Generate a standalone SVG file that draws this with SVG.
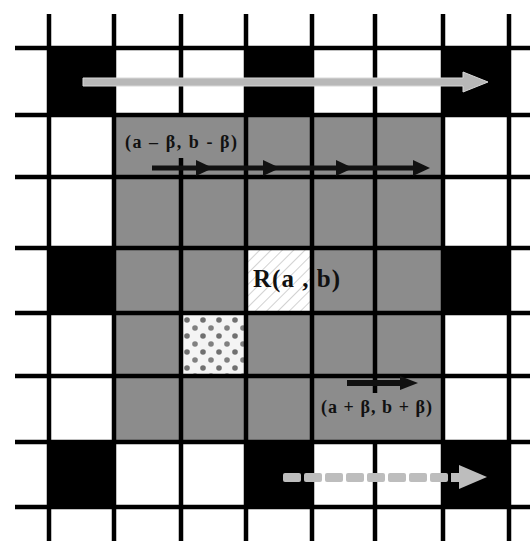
<svg xmlns="http://www.w3.org/2000/svg" width="530" height="541" viewBox="0 0 530 541">
<style>
.grid line{stroke:#000;stroke-width:4.5}
.blk{fill:#000}
.lbl{font-family:"Liberation Serif","Times New Roman",serif;font-weight:bold;fill:#111}
.light{fill:#b8b8b8;stroke:#d8d8d8;stroke-width:1}
</style>
<defs>
<pattern id="hatch" width="8" height="8" patternUnits="userSpaceOnUse" patternTransform="rotate(45)">
<rect width="8" height="8" fill="#fff"/>
<line x1="0" y1="0" x2="0" y2="8" stroke="#c4c4c4" stroke-width="1.5"/>
</pattern>
<pattern id="dots" width="16" height="16" patternUnits="userSpaceOnUse" x="183" y="316">
<rect width="16" height="16" fill="#f4f4f4"/>
<circle cx="4" cy="4" r="2.8" fill="#707070"/>
<circle cx="12" cy="12" r="2.8" fill="#808080"/>
</pattern>
</defs>
<rect width="530" height="541" fill="#fff"/>
<g id="cells">
<rect x="114" y="115" width="329" height="327" fill="#8c8c8c"/>
<rect class="blk" x="49" y="48" width="65" height="67"/>
<rect class="blk" x="246" y="48" width="66" height="67"/>
<rect class="blk" x="443" y="48" width="66" height="67"/>
<rect class="blk" x="49" y="248" width="65" height="65"/>
<rect class="blk" x="443" y="248" width="66" height="65"/>
<rect class="blk" x="49" y="442" width="65" height="65"/>
<rect class="blk" x="246" y="442" width="66" height="65"/>
<rect class="blk" x="443" y="442" width="66" height="65"/>
<rect id="R" x="246" y="248" width="66" height="65" fill="url(#hatch)"/>
<rect id="dotcell" x="181" y="313" width="65" height="63" fill="url(#dots)"/>
</g>
<g class="grid" id="grid">
<line x1="49" y1="14" x2="49" y2="541"/>
<line x1="114" y1="14" x2="114" y2="541"/>
<line x1="181" y1="14" x2="181" y2="115"/>
<line x1="181" y1="158" x2="181" y2="541"/>
<line x1="246" y1="14" x2="246" y2="541"/>
<line x1="312" y1="14" x2="312" y2="541"/>
<line x1="375" y1="14" x2="375" y2="393"/>
<line x1="375" y1="442" x2="375" y2="541"/>
<line x1="443" y1="14" x2="443" y2="541"/>
<line x1="509" y1="14" x2="509" y2="541"/>
<line x1="15" y1="48" x2="530" y2="48"/>
<line x1="15" y1="115" x2="530" y2="115"/>
<line x1="15" y1="177" x2="530" y2="177"/>
<line x1="15" y1="248" x2="530" y2="248"/>
<line x1="15" y1="313" x2="530" y2="313"/>
<line x1="15" y1="376" x2="530" y2="376"/>
<line x1="15" y1="442" x2="530" y2="442"/>
<line x1="15" y1="507" x2="530" y2="507"/>
</g>
<g id="connectors">
<polygon class="light" points="83,78 463,78 463,72 488,82 463,92 463,86 83,86"/>
<g fill="#bdbdbd">
<rect x="283" y="473" width="18" height="9" rx="2"/>
<rect x="304" y="473" width="18" height="9" rx="2"/>
<rect x="325" y="473" width="18" height="9" rx="2"/>
<rect x="346" y="473" width="18" height="9" rx="2"/>
<rect x="367" y="473" width="18" height="9" rx="2"/>
<rect x="388" y="473" width="18" height="9" rx="2"/>
<rect x="409" y="473" width="18" height="9" rx="2"/>
<rect x="430" y="473" width="18" height="9" rx="2"/>
<rect x="451" y="473" width="10" height="9"/>
<polygon points="459,465 487,477 459,489"/>
</g>
<line x1="152" y1="168" x2="424" y2="168" stroke="#111" stroke-width="5"/>
<g fill="#111">
<polygon points="196,160 213,168 196,176"/>
<polygon points="263,160 280,168 263,176"/>
<polygon points="336,160 353,168 336,176"/>
<polygon points="413,160 430,168 413,176"/>
<polygon points="400,376 418,383 400,390"/>
</g>
<line x1="347" y1="383" x2="404" y2="383" stroke="#111" stroke-width="6"/>
</g>
<g id="labels">
<text class="lbl" x="125" y="148" font-size="18" textLength="112" lengthAdjust="spacing">(a – β, b - β)</text>
<text class="lbl" x="321" y="413" font-size="18" textLength="111" lengthAdjust="spacing">(a + β, b + β)</text>
<text class="lbl" x="253" y="287" font-size="25" textLength="87" lengthAdjust="spacing">R(a , b)</text>
</g>
</svg>
